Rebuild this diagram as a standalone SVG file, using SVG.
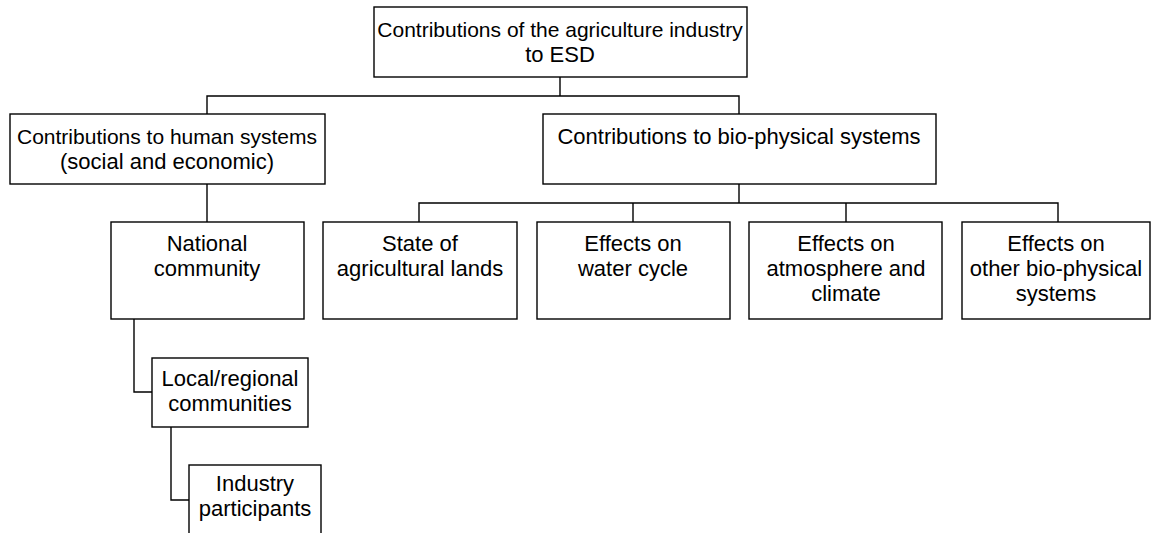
<svg xmlns="http://www.w3.org/2000/svg" width="1152" height="533" viewBox="0 0 1152 533">
  <style>
    .box { fill: #ffffff; stroke: #000000; stroke-width: 1.4; }
    .link { fill: none; stroke: #000000; stroke-width: 1.4; }
    text { font-family: "Liberation Sans", Arial, sans-serif; font-size: 22px; fill: #000000; text-anchor: middle; }
    text.tight { font-size: 21px; }
  </style>
  <rect width="1152" height="533" fill="#ffffff"/>

  <!-- connectors -->
  <g id="connectors">
    <path class="link" d="M560 77 V96 M207 114 V96 H739 V114"/>
    <path class="link" d="M207 184 V222"/>
    <path class="link" d="M739 184 V203 M419 222 V203 H1058 V222 M633 203 V222 M846 203 V222"/>
    <path class="link" d="M134 319 V392 H152"/>
    <path class="link" d="M171 427 V500 H189"/>
  </g>

  <g id="root">
    <rect class="box" x="374" y="7" width="373" height="70"/>
    <text class="tight" x="560" y="37">Contributions of the agriculture industry</text>
    <text x="560" y="62">to ESD</text>
  </g>

  <g id="human">
    <rect class="box" x="10" y="114" width="315" height="70"/>
    <text class="tight" x="167" y="144">Contributions to human systems</text>
    <text x="167" y="169">(social and economic)</text>
  </g>

  <g id="biophysical">
    <rect class="box" x="543" y="114" width="393" height="70"/>
    <text x="739" y="144">Contributions to bio-physical systems</text>
  </g>

  <g id="national">
    <rect class="box" x="111" y="222" width="193" height="97"/>
    <text x="207" y="251">National</text>
    <text x="207" y="276">community</text>
  </g>

  <g id="lands">
    <rect class="box" x="323" y="222" width="194" height="97"/>
    <text x="420" y="251">State of</text>
    <text x="420" y="276">agricultural lands</text>
  </g>

  <g id="water">
    <rect class="box" x="537" y="222" width="193" height="97"/>
    <text x="633" y="251">Effects on</text>
    <text x="633" y="276">water cycle</text>
  </g>

  <g id="atmosphere">
    <rect class="box" x="749" y="222" width="193" height="97"/>
    <text x="846" y="251">Effects on</text>
    <text x="846" y="276">atmosphere and</text>
    <text x="846" y="301">climate</text>
  </g>

  <g id="other">
    <rect class="box" x="962" y="222" width="188" height="97"/>
    <text x="1056" y="251">Effects on</text>
    <text x="1056" y="276">other bio-physical</text>
    <text x="1056" y="301">systems</text>
  </g>

  <g id="local">
    <rect class="box" x="152" y="358" width="156" height="69"/>
    <text x="230" y="386">Local/regional</text>
    <text x="230" y="411">communities</text>
  </g>

  <g id="participants">
    <rect class="box" x="189" y="465" width="132" height="80"/>
    <text x="255" y="491">Industry</text>
    <text x="255" y="516">participants</text>
  </g>
</svg>
